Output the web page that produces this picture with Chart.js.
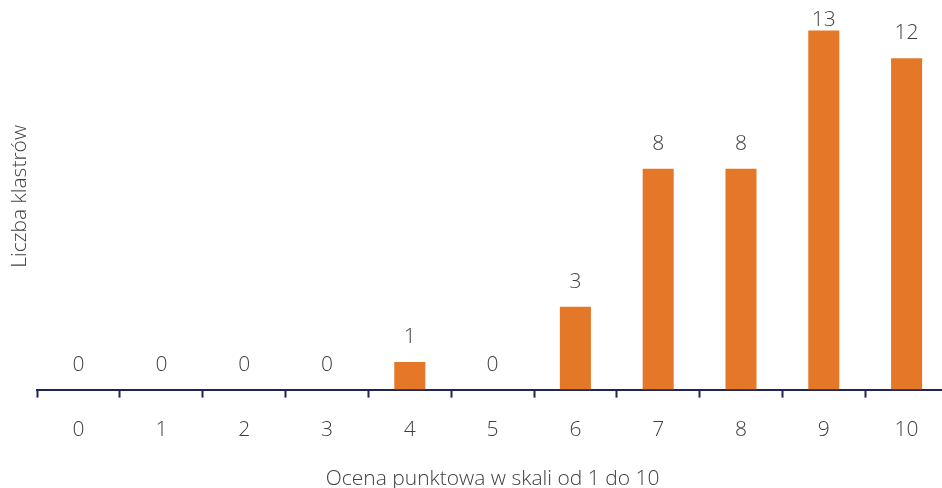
<!DOCTYPE html>
<html>
<head>
<meta charset="utf-8">
<script src="https://cdn.jsdelivr.net/npm/chart.js@4/dist/chart.umd.min.js"></script>
<style>
  html, body { margin: 0; padding: 0; background: #ffffff; overflow: hidden; }
  #wrap { position: relative; width: 948px; height: 488px; }
</style>
</head>
<body>
<div id="wrap"><canvas id="chart"></canvas></div>
<script>
// Rozkład ocen klastrów
const categories = ['0', '1', '2', '3', '4', '5', '6', '7', '8', '9', '10'];
const clusterCounts = [0, 0, 0, 0, 1, 0, 3, 8, 8, 13, 12];
const xTitle = 'Ocena punktowa w skali od 1 do 10';
const yTitle = 'Liczba klastrów';

const FONT = '"Open Sans", "Segoe UI", sans-serif';
const SIZE = 21;
const TEXT = '#404040';
const AXIS = '#1f2456';
const BAR = '#e47828';

// Wartości nad słupkami
const valueLabels = {
  id: 'valueLabels',
  afterDatasetsDraw(chart) {
    const { ctx } = chart;
    const meta = chart.getDatasetMeta(0);
    ctx.save();
    ctx.font = '300 ' + SIZE + 'px ' + FONT;
    ctx.fillStyle = TEXT;
    ctx.textAlign = 'center';
    ctx.textBaseline = 'middle';
    meta.data.forEach((bar, i) => {
      const y = Math.max(bar.y - 25, 20);
      ctx.fillText(String(clusterCounts[i]), bar.x, y);
    });
    ctx.restore();
  }
};

new Chart(document.getElementById('chart'), {
  type: 'bar',
  data: {
    labels: categories,
    datasets: [{
      data: clusterCounts,
      backgroundColor: BAR,
      categoryPercentage: 1,
      barPercentage: 0.375
    }]
  },
  options: {
    responsive: true,
    maintainAspectRatio: false,
    animation: false,
    layout: { padding: { top: 3, right: 0, bottom: -4, left: 0 } },
    plugins: { legend: { display: false }, tooltip: { enabled: false } },
    scales: {
      x: {
        grid: {
          display: true,
          drawOnChartArea: false,
          drawTicks: true,
          tickLength: 8,
          tickWidth: 2,
          color: AXIS,
          offset: true
        },
        border: { display: true, color: AXIS, width: 2 },
        ticks: { color: TEXT, font: { family: FONT, size: SIZE, weight: 300 }, padding: 20 },
        title: {
          display: true,
          text: xTitle,
          color: TEXT,
          font: { family: FONT, size: SIZE, weight: 300 },
          padding: { top: 4, bottom: 0 }
        }
      },
      y: {
        min: 0,
        max: 14,
        grid: { display: false },
        border: { display: false },
        ticks: { display: false },
        title: {
          display: true,
          text: yTitle,
          color: TEXT,
          font: { family: FONT, size: SIZE, weight: 300 },
          padding: { top: 7, bottom: -3 }
        }
      }
    }
  },
  plugins: [valueLabels]
});
</script>
</body>
</html>
